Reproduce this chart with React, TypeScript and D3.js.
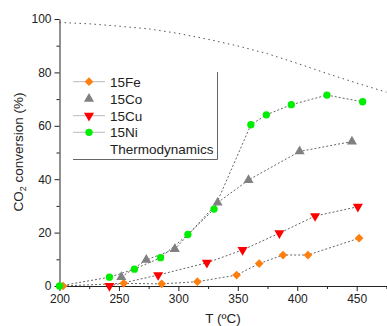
import React, { useEffect, useRef } from 'react';
import * as d3 from 'd3';

// chart values
const feT = [203, 254, 286, 316, 349, 368, 388, 409, 452];
const feV = [0, 1, 0.8, 1.6, 4.1, 8.4, 11.6, 11.6, 17.9];
const coT = [252, 273, 297, 333, 359, 402, 446];
const coV = [3.3, 9.8, 13.8, 31.2, 39.7, 50.4, 54.1];
const cuT = [242, 283, 324, 354, 385, 415, 451];
const cuV = [0, 4.1, 8.7, 13.5, 19.8, 26.2, 29.7];
const niT = [200, 242, 263, 285, 308, 330, 361, 374, 395, 425, 455];
const niV = [0, 3.3, 6.3, 10.6, 19.3, 28.8, 60.4, 64.1, 67.9, 71.5, 69];
const thermoT = [200, 225, 250, 275, 300, 325, 350, 375, 400, 425, 450, 475];
const thermoV = [98.7, 98.2, 97.3, 96.3, 94.6, 92.4, 89.9, 87.0, 83.4, 79.6, 76.0, 72.6];

const xTicks = [200, 250, 300, 350, 400, 450];
const xMinor = [225, 275, 325, 375, 425, 475];
const yTicks = [0, 20, 40, 60, 80, 100];
const yMinor = [10, 30, 50, 70, 90];

const legendNames = ['15Fe', '15Co', '15Cu', '15Ni', 'Thermodynamics'];

const FONT = '"Liberation Sans", Arial, sans-serif';

export default function App() {
  const ref = useRef<SVGSVGElement>(null);

  useEffect(() => {
    const svg = d3.select(ref.current);
    svg.selectAll('*').remove();

    const x = d3.scaleLinear().domain([200, 475.5]).range([59.5, 387]);
    const y = d3.scaleLinear().domain([0, 100]).range([286, 19]);

    // axes
    const gx = svg.append('g').attr('transform', `translate(0,${y(0)})`);
    gx.call(d3.axisBottom(x).tickValues(xTicks).tickSize(5).tickSizeOuter(0).tickPadding(3));
    const gxm = svg.append('g').attr('transform', `translate(0,${y(0)})`);
    gxm.call(d3.axisBottom(x).tickValues(xMinor).tickSize(3).tickFormat(() => ''));
    gxm.select('.domain').remove();

    const gy = svg.append('g').attr('transform', `translate(${x(200)},0)`);
    gy.call(d3.axisLeft(y).tickValues(yTicks).tickSize(5).tickSizeOuter(0).tickPadding(3));
    const gym = svg.append('g').attr('transform', `translate(${x(200)},0)`);
    gym.call(d3.axisLeft(y).tickValues(yMinor).tickSize(3).tickFormat(() => ''));
    gym.select('.domain').remove();

    svg.selectAll('.tick text')
      .attr('font-family', FONT)
      .attr('font-size', 12)
      .attr('fill', '#222');
    svg.selectAll('.domain, .tick line').attr('stroke', '#222');

    // axis titles
    svg.append('text')
      .attr('x', 223)
      .attr('y', 323)
      .attr('text-anchor', 'middle')
      .attr('font-family', FONT)
      .attr('font-size', 13.5)
      .attr('fill', '#222')
      .text('T (ºC)');

    const yl = svg.append('text')
      .attr('transform', `translate(23,152) rotate(-90)`)
      .attr('text-anchor', 'middle')
      .attr('font-family', FONT)
      .attr('font-size', 13.5)
      .attr('fill', '#222');
    yl.append('tspan').text('CO');
    yl.append('tspan').attr('font-size', 9).attr('dy', 3).text('2');
    yl.append('tspan').attr('dy', -3).text(' conversion (%)');

    const line = d3.line<[number, number]>()
      .x(d => x(d[0]))
      .y(d => y(d[1]));

    const zip = (ts: number[], vs: number[]) => ts.map((t, i) => [t, vs[i]] as [number, number]);

    // thermodynamic limit
    svg.append('path')
      .attr('d', line(zip(thermoT, thermoV)))
      .attr('fill', 'none')
      .attr('stroke', '#555')
      .attr('stroke-width', 1)
      .attr('stroke-dasharray', '1.5,3.5');

    const series = [
      { t: feT, v: feV, color: '#ff7f0e', sym: d3.symbolSquare, size: 38, rot: 45 },
      { t: coT, v: coV, color: '#808080', sym: d3.symbolTriangle, size: 44, rot: 0 },
      { t: cuT, v: cuV, color: '#ff0000', sym: d3.symbolTriangle, size: 44, rot: 180 },
      { t: niT, v: niV, color: '#00ee00', sym: d3.symbolCircle, size: 42, rot: 0 },
    ];

    series.forEach(s => {
      svg.append('path')
        .attr('d', line(zip(s.t, s.v)))
        .attr('fill', 'none')
        .attr('stroke', '#555')
        .attr('stroke-width', 0.9)
        .attr('stroke-dasharray', '2,2');
    });

    series.forEach(s => {
      svg.append('g')
        .selectAll('path')
        .data(zip(s.t, s.v))
        .enter()
        .append('path')
        .attr('d', d3.symbol().type(s.sym).size(s.size)())
        .attr('transform', d => `translate(${x(d[0])},${y(d[1])}) rotate(${s.rot})`)
        .attr('fill', s.color);
    });

    // legend
    const lg = svg.append('g');
    lg.append('path')
      .attr('d', 'M73,159.5H217.5V72')
      .attr('fill', 'none')
      .attr('stroke', '#666')
      .attr('stroke-width', 1);
    const rowY = [81.7, 98.8, 115.7, 132.3, 149.5];
    legendNames.forEach((name, i) => {
      const s = series[i];
      if (s && i !== 1) {
        lg.append('line')
          .attr('x1', 73).attr('x2', 105)
          .attr('y1', rowY[i]).attr('y2', rowY[i])
          .attr('stroke', '#bbb')
          .attr('stroke-width', 1);
      }
      if (s) {
        lg.append('path')
          .attr('d', d3.symbol().type(s.sym).size(s.size)())
          .attr('transform', `translate(89,${rowY[i]}) rotate(${s.rot})`)
          .attr('fill', s.color);
      }
      lg.append('text')
        .attr('x', 110)
        .attr('y', rowY[i])
        .attr('dy', '0.36em')
        .attr('font-family', FONT)
        .attr('font-size', 13.5)
        .attr('fill', '#222')
        .text(name);
    });
  }, []);

  return (
    <svg
      ref={ref}
      width={387}
      height={326}
      style={{ position: 'absolute', left: 0, top: 0, background: '#fff' }}
    />
  );
}
